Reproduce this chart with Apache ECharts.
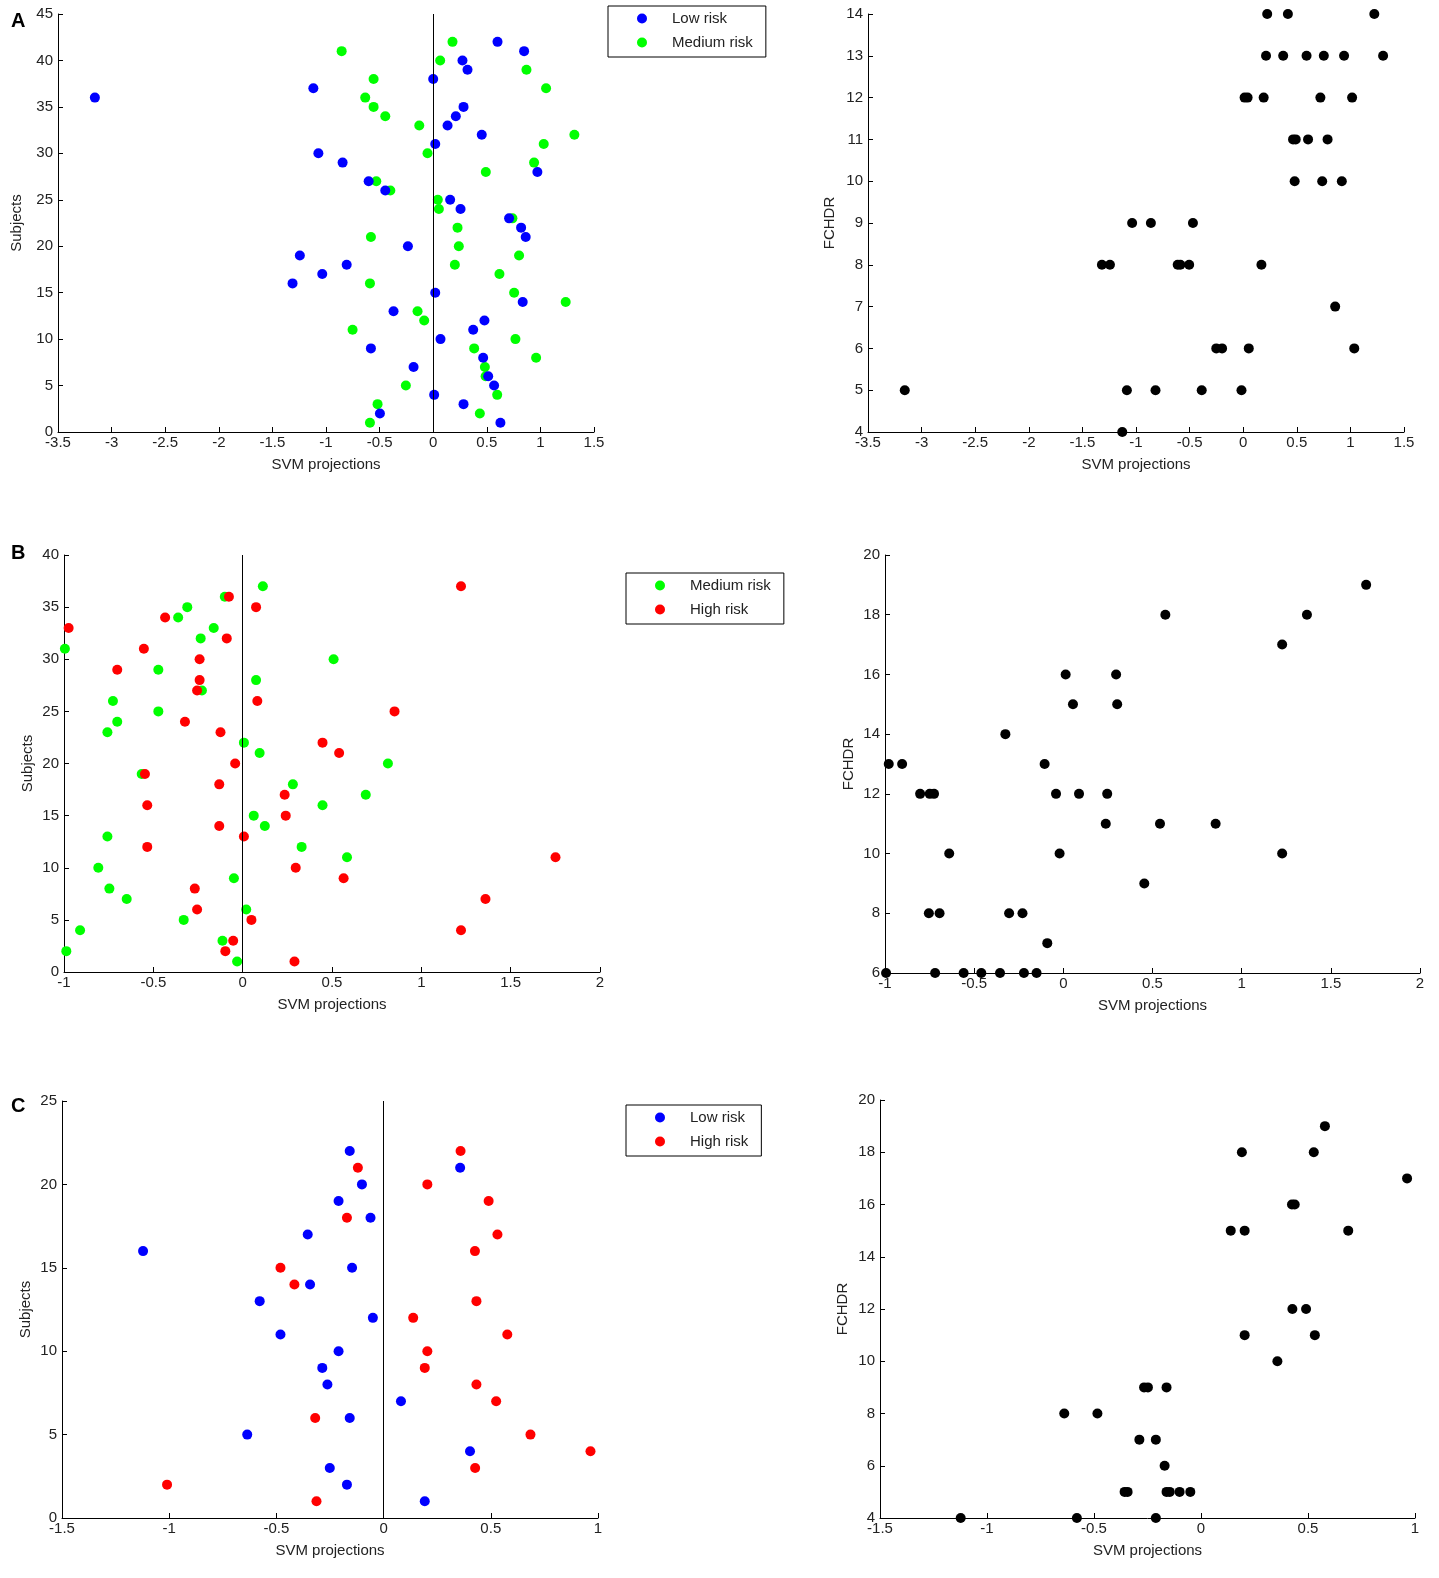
<!DOCTYPE html>
<html>
<head>
<meta charset="utf-8">
<script src="https://cdn.jsdelivr.net/npm/echarts@6/dist/echarts.min.js"></script>
<style>
  html, body { margin: 0; padding: 0; background: #fff; }
  #chart { width: 1439px; height: 1578px; }
</style>
</head>
<body>
<div id="chart"></div>
<script>
// Panel A: SVM projection of each subject (index = subject number - 1)
var aLow = [0.627, -0.497, 0.283, 0.009, 0.568, 0.513, -0.183, 0.466, -0.581, 0.068,
  0.373, 0.478, -0.370, 0.835, 0.019, -1.312, -1.035, -0.807, -1.244, -0.236,
  0.863, 0.820, 0.708, 0.255, 0.158, -0.447, -0.602, 0.972, -0.845, -1.071,
  0.019, 0.453, 0.134, 0.211, 0.283, -3.156, -1.118, 0.000, 0.320, 0.273,
  0.848, 0.600];
var aMedium = [-0.590, 0.435, -0.519, 0.597, -0.255, 0.489, 0.482, 0.960, 0.382, 0.767,
  -0.752, -0.084, -0.146, 1.236, 0.755, -0.590, 0.618, 0.202, 0.801, 0.239,
  -0.581, 0.227, 0.739, 0.053, 0.043, -0.400, -0.531, 0.491, 0.941, -0.053,
  1.031, 1.317, -0.130, -0.447, -0.556, -0.634, 1.053, -0.556, 0.870, 0.065,
  -0.854, 0.180];
// Panel A right: [SVM projection, FCHDR]
var aFchdr = [
  [0.224, 14], [0.417, 14], [1.223, 14],
  [0.213, 13], [0.373, 13], [0.591, 13], [0.752, 13], [0.941, 13], [1.305, 13],
  [0.013, 12], [0.041, 12], [0.191, 12], [0.720, 12], [1.016, 12],
  [0.465, 11], [0.490, 11], [0.605, 11], [0.787, 11],
  [0.480, 10], [0.737, 10], [0.920, 10],
  [-1.036, 9], [-0.861, 9], [-0.469, 9],
  [-1.318, 8], [-1.243, 8], [-0.611, 8], [-0.586, 8], [-0.504, 8], [0.170, 8],
  [0.858, 7],
  [-0.251, 6], [-0.197, 6], [0.052, 6], [1.036, 6],
  [-3.157, 5], [-1.085, 5], [-0.818, 5], [-0.387, 5], [-0.016, 5],
  [-1.128, 4]
];

// Panel B
var bMedium = [-0.031, -0.987, -0.113, -0.910, -0.330, 0.020, -0.649, -0.746, -0.049, -0.808,
  0.584, 0.330, -0.757, 0.124, 0.062, 0.447, 0.689, 0.281, -0.565, 0.813,
  0.095, 0.007, -0.757, -0.702, -0.472, -0.726, -0.228, 0.075, -0.472, 0.509,
  -0.995, -0.235, -0.162, -0.361, -0.310, -0.100, 0.113];
var bHigh = [0.290, -0.097, -0.053, 1.222, 0.049, -0.255, 1.359, -0.268, 0.565, 0.297,
  1.751, -0.534, 0.007, -0.131, 0.241, -0.534, 0.235, -0.131, -0.547, -0.042,
  0.540, 0.447, -0.124, -0.323, 0.850, 0.082, -0.255, -0.241, -0.702, -0.241,
  -0.553, -0.089, -0.974, -0.434, 0.075, -0.077, 1.222];
var bFchdr = [
  [1.698, 19],
  [0.572, 18], [1.366, 18],
  [1.227, 17],
  [0.013, 16], [0.296, 16],
  [0.054, 15], [0.302, 15],
  [-0.325, 14],
  [-0.979, 13], [-0.904, 13], [-0.105, 13],
  [-0.803, 12], [-0.749, 12], [-0.725, 12], [-0.041, 12], [0.088, 12], [0.246, 12],
  [0.238, 11], [0.542, 11], [0.854, 11],
  [-0.640, 10], [-0.021, 10], [1.227, 10],
  [0.454, 9],
  [-0.754, 8], [-0.694, 8], [-0.304, 8], [-0.229, 8],
  [-0.090, 7],
  [-0.994, 6], [-0.719, 6], [-0.559, 6], [-0.460, 6], [-0.355, 6], [-0.221, 6], [-0.150, 6]
];

// Panel C
var cLow = [0.192, -0.171, -0.251, 0.403, -0.636, -0.158, 0.081, -0.262, -0.286, -0.210,
  -0.481, -0.050, -0.578, -0.343, -0.147, -1.122, -0.354, -0.061, -0.210, -0.101,
  0.357, -0.158];
var cHigh = [-0.313, -1.010, 0.427, 0.965, 0.685, -0.319, 0.525, 0.433, 0.192, 0.204,
  0.577, 0.138, 0.433, -0.416, -0.481, 0.426, 0.531, -0.171, 0.490, 0.204,
  -0.120, 0.359];
var cFchdr = [
  [0.579, 19],
  [0.191, 18], [0.527, 18],
  [0.963, 17],
  [0.425, 16], [0.438, 16],
  [0.139, 15], [0.204, 15], [0.688, 15],
  [0.427, 12], [0.491, 12],
  [0.204, 11], [0.532, 11],
  [0.357, 10],
  [-0.266, 9], [-0.248, 9], [-0.161, 9],
  [-0.639, 8], [-0.484, 8],
  [-0.288, 7], [-0.211, 7],
  [-0.170, 6],
  [-0.357, 5], [-0.343, 5], [-0.161, 5], [-0.146, 5], [-0.100, 5], [-0.050, 5],
  [-1.123, 4], [-0.580, 4], [-0.211, 4]
];

var FONT = 'Liberation Sans';
var FS = 15;
var TXT = '#222';

function bySubject(values) {
  return values.map(function (v, i) { return [v, i + 1]; });
}

function xAxisCfg(idx, min, max) {
  return {
    gridIndex: idx, type: 'value', min: min, max: max, interval: 0.5,
    name: 'SVM projections', nameLocation: 'middle', nameGap: 25,
    nameTextStyle: { fontFamily: FONT, fontSize: FS, color: TXT },
    axisLine: { onZero: false, lineStyle: { color: '#000', width: 1 } },
    axisTick: { inside: true, length: 5, lineStyle: { color: '#000' } },
    axisLabel: { fontFamily: FONT, fontSize: FS, color: TXT, margin: 3 },
    splitLine: { show: false }
  };
}

function yAxisCfg(idx, name, min, max, interval, gap) {
  return {
    gridIndex: idx, type: 'value', min: min, max: max, interval: interval,
    name: name, nameLocation: 'middle', nameGap: gap,
    nameTextStyle: { fontFamily: FONT, fontSize: FS, color: TXT },
    axisLine: { show: true, onZero: false, lineStyle: { color: '#000', width: 1 } },
    axisTick: { show: true, inside: true, length: 5, lineStyle: { color: '#000' } },
    axisLabel: { fontFamily: FONT, fontSize: FS, color: TXT, margin: 5 },
    splitLine: { show: false }
  };
}

function dots(name, idx, data, color, z) {
  return {
    name: name, type: 'scatter', xAxisIndex: idx, yAxisIndex: idx,
    data: data, symbol: 'circle', symbolSize: 10, z: z || 2,
    itemStyle: { color: color, opacity: 1 }
  };
}

var zeroLine = {
  silent: true, symbol: 'none', label: { show: false },
  lineStyle: { color: '#000', width: 1, type: 'solid' },
  data: [{ xAxis: 0 }]
};

function legendCfg(names, left, top) {
  return {
    data: names, left: left, top: top, orient: 'vertical',
    icon: 'circle', itemWidth: 10, itemHeight: 10, itemGap: 7,
    borderColor: '#000', borderWidth: 1, borderRadius: 0,
    padding: [4, 13, 6, 29],
    selectedMode: false,
    textStyle: { fontFamily: FONT, fontSize: FS, color: TXT, lineHeight: 17, padding: [0, 0, 0, 20] }
  };
}

function letter(t, top) {
  return {
    text: t, left: 6, top: top,
    textStyle: { fontFamily: FONT, fontSize: 20, fontWeight: 'bold', color: '#000' }
  };
}

var chart = echarts.init(document.getElementById('chart'));

var aMedSeries = dots('Medium risk', 0, bySubject(aMedium), '#00ff00', 2);
aMedSeries.markLine = zeroLine;
var bMedSeries = dots('Medium risk', 2, bySubject(bMedium), '#00ff00', 2);
bMedSeries.markLine = zeroLine;
var cLowSeries = dots('Low risk', 4, bySubject(cLow), '#0000ff', 2);
cLowSeries.markLine = zeroLine;

chart.setOption({
  backgroundColor: '#fff',
  animation: false,
  title: [letter('A', 6), letter('B', 538), letter('C', 1091)],
  grid: [
    { left: 58, top: 14, width: 536, height: 418 },
    { left: 868, top: 14, width: 536, height: 418 },
    { left: 64, top: 555, width: 536, height: 417 },
    { left: 885, top: 555, width: 535, height: 418 },
    { left: 62, top: 1101, width: 536, height: 417 },
    { left: 880, top: 1100, width: 535, height: 418 }
  ],
  xAxis: [
    xAxisCfg(0, -3.5, 1.5),
    xAxisCfg(1, -3.5, 1.5),
    xAxisCfg(2, -1, 2),
    xAxisCfg(3, -1, 2),
    xAxisCfg(4, -1.5, 1),
    xAxisCfg(5, -1.5, 1)
  ],
  yAxis: [
    yAxisCfg(0, 'Subjects', 0, 45, 5, 34),
    yAxisCfg(1, 'FCHDR', 4, 14, 1, 31),
    yAxisCfg(2, 'Subjects', 0, 40, 5, 29),
    yAxisCfg(3, 'FCHDR', 6, 20, 2, 29),
    yAxisCfg(4, 'Subjects', 0, 25, 5, 29),
    yAxisCfg(5, 'FCHDR', 4, 20, 2, 30)
  ],
  legend: [
    legendCfg(['Low risk', 'Medium risk'], 608, 6),
    legendCfg(['Medium risk', 'High risk'], 626, 573),
    legendCfg(['Low risk', 'High risk'], 626, 1105)
  ],
  series: [
    aMedSeries,
    dots('Low risk', 0, bySubject(aLow), '#0000ff', 3),
    dots('FCHDR A', 1, aFchdr, '#000000'),
    bMedSeries,
    dots('High risk', 2, bySubject(bHigh), '#ff0000', 3),
    dots('FCHDR B', 3, bFchdr, '#000000'),
    cLowSeries,
    dots('High risk', 4, bySubject(cHigh), '#ff0000', 3),
    dots('FCHDR C', 5, cFchdr, '#000000')
  ]
});
</script>
</body>
</html>
